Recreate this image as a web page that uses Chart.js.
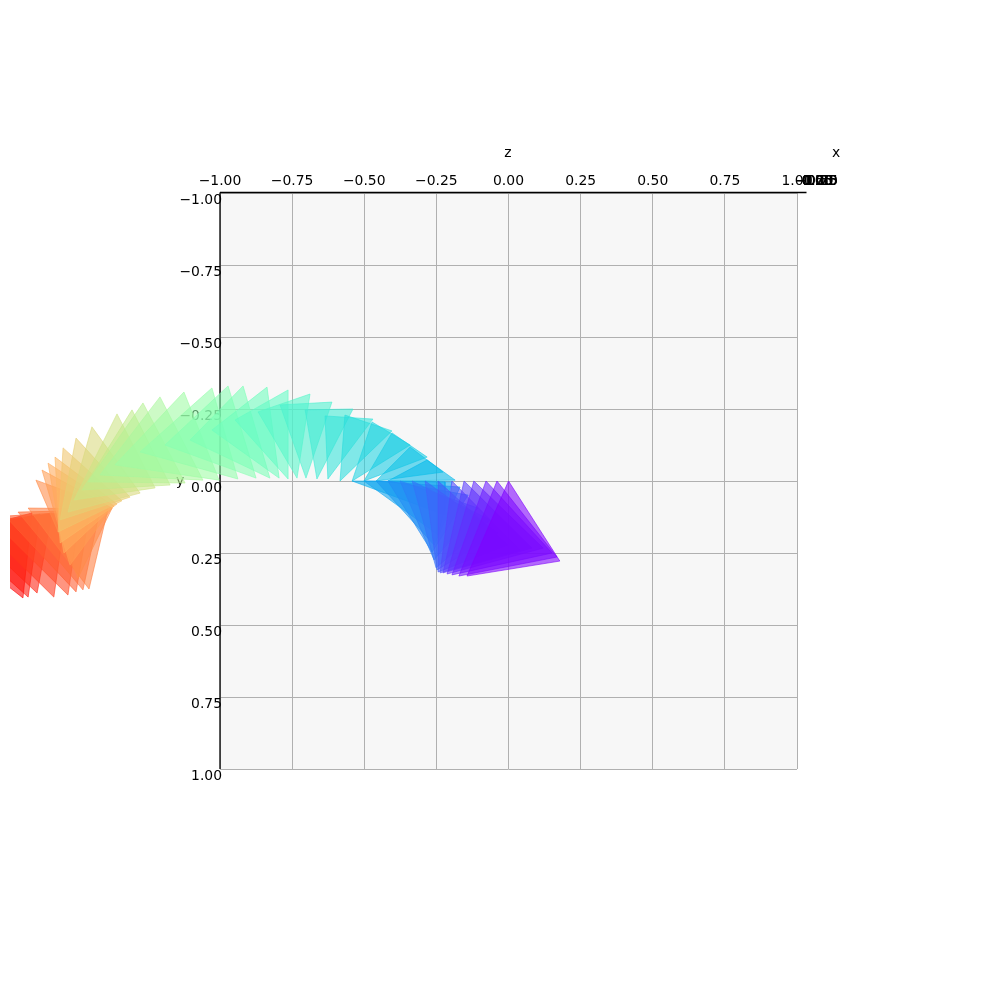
<!DOCTYPE html>
<html><head><meta charset="utf-8">
<style>html,body{margin:0;padding:0;background:#fff}canvas{display:block}</style>
<script src="https://cdn.jsdelivr.net/npm/chart.js@4"></script>
</head><body><canvas id="c" width="990" height="989"></canvas>
<script>
const aZ=[0,-.040,-.078,-.120,-.154,-.196,-.244,-.289,-.334,-.376,-.418,-.459,-.501,-.542,-.418,-.459,-.501,-.542,-.584,-.626,-.664,-.702,-.733,-.764,-.795,-.827,-.875,-.938,-1.003,-1.059,-1.121,-1.173,-1.225,-1.277,-1.312,-1.340,-1.357,-1.367,-1.374,-1.374,-1.388,-1.416,-1.451,-1.485,-1.534,-1.582,-1.624,-1.652];
const aY=[0,0,0,0,0,0,0,0,0,0,0,0,0,0,0,0,0,0,0,-.007,-.007,-.010,-.010,-.007,-.010,-.010,-.010,-.007,-.003,-.003,.007,.014,.024,.042,.056,.069,.080,.087,.094,.094,.097,.101,.104,.108,.108,.111,.115,.111];
const bZ=[.178,.168,.151,.120,.081,.040,-.002,-.036,-.064,-.106,-.140,-.168,-.196,-.220,-.185,-.227,-.282,-.341,-.404,-.470,-.539,-.612,-.688,-.764,-.837,-.920,-.972,-1.028,-1.125,-1.208,-1.267,-1.305,-1.357,-1.444,-1.499,-1.544,-1.572,-1.596,-1.617,-1.638,-1.665,-1.700,-1.745,-1.790,-1.832,-1.873,-1.915,-1.953];
const bY=[.278,.264,.250,.233,.233,.240,.222,.181,.135,.094,.049,.021,.003,.003,-.003,-.031,-.083,-.125,-.174,-.215,-.250,-.274,-.302,-.316,-.326,-.330,-.330,-.323,-.309,-.292,-.271,-.247,-.233,-.188,-.149,-.115,-.083,-.062,-.038,-.003,.094,.108,.122,.135,.149,.163,.177,.194];
const cZ=[-.144,-.172,-.196,-.213,-.227,-.237,-.244,-.248,-.251,-.258,-.265,-.258,-.244,-.220,-.282,-.341,-.404,-.473,-.567,-.636,-.705,-.792,-.868,-.948,-1.028,-1.104,-1.191,-1.277,-1.364,-1.416,-1.457,-1.478,-1.506,-1.527,-1.554,-1.561,-1.554,-1.541,-1.520,-1.492,-1.454,-1.475,-1.499,-1.527,-1.576,-1.634,-1.665,-1.683];
const cY=[.330,.330,.326,.323,.319,.319,.316,.309,.302,.274,.247,.222,.187,.118,-.073,-.118,-.167,-.205,-.229,-.226,-.247,-.264,-.240,-.212,-.177,-.142,-.125,-.101,-.056,-.021,.003,.031,.066,.108,.135,.177,.215,.250,.292,.337,.375,.378,.385,.396,.403,.389,.403,.406];
const zTicks=[-1,-.75,-.5,-.25,0,.25,.5,.75,1];
const xTickLabels=['−1.00','−0.75','−0.50','−0.25','0.00','0.25','0.50','0.75','1.00'];
const fmt=v=>(v<0?'−':'')+Math.abs(v).toFixed(2);
function rainbow(t,a){
  const r=Math.min(1,Math.abs(2*t-.5)),g=Math.sin(Math.PI*t),b=Math.cos(Math.PI*t/2);
  return `rgba(${Math.round(r*255)},${Math.round(g*255)},${Math.round(b*255)},${a})`;
}
const FILL_ALPHA=.58, LINE_ALPHA=.58;
const FONT='13.9px "DejaVu Sans"';
const shade=i=>i<=19?i/19*.35:.35+(i-19)/(aZ.length-20)*.65;
const datasets=aZ.map((_,i)=>{
  const t=shade(i);
  return {type:'scatter',showLine:true,fill:false,tension:0,
    data:[{x:aZ[i],y:aY[i]},{x:bZ[i],y:bY[i]},{x:cZ[i],y:cY[i]},{x:aZ[i],y:aY[i]}],
    borderColor:rainbow(t,LINE_ALPHA),borderWidth:1,backgroundColor:rainbow(t,FILL_ALPHA),
    pointRadius:0,pointHoverRadius:0,clip:{left:210,right:false,top:false,bottom:false}};
});
const paint={id:'paint',
  beforeDraw(ch){const a=ch.chartArea,c=ch.ctx;c.save();c.fillStyle='#fff';c.fillRect(0,0,990,989);c.fillStyle='#f7f7f7';c.fillRect(a.left,a.top,a.right-a.left,a.bottom-a.top);c.restore();},
  beforeDatasetsDraw(ch){const a=ch.chartArea,c=ch.ctx;c.save();
    c.strokeStyle='#000';c.lineWidth=1.3;c.beginPath();c.moveTo(a.left,a.top-.5);c.lineTo(806.5,a.top-.5);c.moveTo(a.left,a.top-.5);c.lineTo(a.left,a.bottom);c.stroke();
    c.fillStyle='#000';c.font=FONT;c.textAlign='center';c.textBaseline='middle';
    xTickLabels.forEach((s,i)=>c.fillText(s,816+i*.25,181));
    c.fillText('z',508,153);c.fillText('x',836,153);c.fillText('y',180,481);
    c.restore();},
  beforeDatasetDraw(ch,args){const m=args.meta.data,c=ch.ctx;c.save();c.beginPath();c.rect(10,0,980,989);c.clip();c.beginPath();
    m.forEach((p,i)=>i?c.lineTo(p.x,p.y):c.moveTo(p.x,p.y));c.closePath();
    c.fillStyle=ch.data.datasets[args.index].backgroundColor;c.fill();c.restore();}
};
const noLabelClip=s=>{s._computeLabelArea=()=>undefined};
new Chart(document.getElementById('c'),{type:'scatter',data:{datasets},plugins:[paint],options:{
  responsive:false,animation:false,events:[],
  layout:{padding:{left:220,right:193,top:193,bottom:220}},
  plugins:{legend:{display:false},tooltip:{enabled:false},title:{display:false}},
  scales:{
    x:{type:'linear',position:'top',min:-1,max:1,afterBuildTicks:s=>{s.ticks=zTicks.map(v=>({value:v}))},
      afterFit:s=>{s.height=0;s.paddingLeft=0;s.paddingRight=0;noLabelClip(s)},
      grid:{color:'#b0b0b0',lineWidth:1,drawTicks:false,tickLength:0},border:{display:false},
      ticks:{color:'#000',font:{family:'DejaVu Sans',size:13.9},padding:3,maxRotation:0,autoSkip:false,callback:fmt}},
    y:{type:'linear',position:'left',reverse:true,min:-1,max:1,afterBuildTicks:s=>{s.ticks=zTicks.map(v=>({value:v}))},
      afterFit:s=>{s.width=0;s.paddingTop=0;s.paddingBottom=0;noLabelClip(s)},
      grid:{color:'#b0b0b0',lineWidth:1,drawTicks:false,tickLength:0},border:{display:false},
      ticks:{color:'#000',font:{family:'DejaVu Sans',size:13.9},padding:-2,labelOffset:7,autoSkip:false,callback:fmt}}
  }}});
</script></body></html>
